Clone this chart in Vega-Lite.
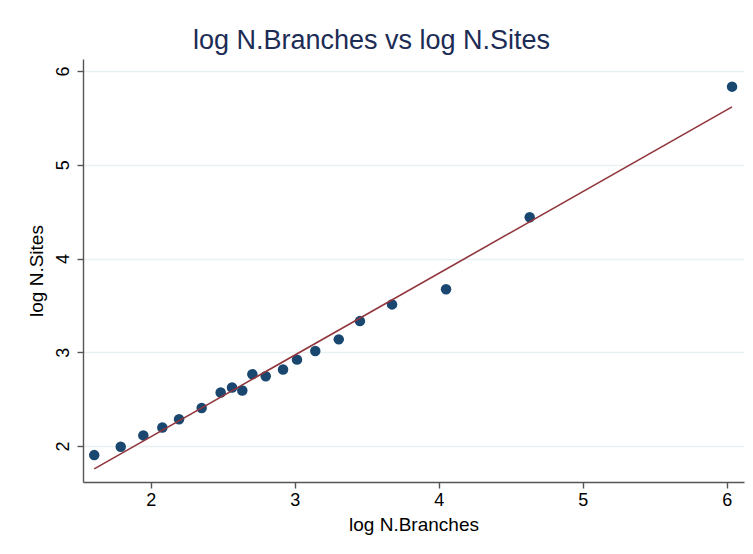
{
  "$schema": "https://vega.github.io/schema/vega-lite/v6.json",
  "width": 661,
  "height": 423,
  "autosize": {"type": "none"},
  "padding": {"left": 83, "top": 59, "right": 9, "bottom": 72},
  "background": "white",
  "config": {
    "font": "Liberation Sans",
    "view": {"stroke": null}
  },
  "title": {
    "text": "log N.Branches vs log N.Sites",
    "font": "Liberation Sans",
    "fontSize": 27,
    "fontWeight": "normal",
    "color": "#1c2c55",
    "anchor": "middle",
    "dx": -42,
    "offset": 4
  },
  "data": {
    "values": [
      {"x": 1.608, "y": 1.904},
      {"x": 1.792, "y": 1.993},
      {"x": 1.949, "y": 2.114},
      {"x": 2.081, "y": 2.199},
      {"x": 2.197, "y": 2.287},
      {"x": 2.354, "y": 2.407},
      {"x": 2.486, "y": 2.571},
      {"x": 2.565, "y": 2.624},
      {"x": 2.636, "y": 2.593},
      {"x": 2.706, "y": 2.766},
      {"x": 2.799, "y": 2.745},
      {"x": 2.919, "y": 2.816},
      {"x": 3.016, "y": 2.922},
      {"x": 3.143, "y": 3.014},
      {"x": 3.306, "y": 3.138},
      {"x": 3.453, "y": 3.333},
      {"x": 3.676, "y": 3.511},
      {"x": 4.051, "y": 3.673},
      {"x": 4.632, "y": 4.44},
      {"x": 6.037, "y": 5.833}
    ]
  },
  "encoding": {
    "x": {
      "field": "x",
      "type": "quantitative",
      "scale": {"domain": [1.53, 6.12], "nice": false, "zero": false},
      "axis": {
        "title": "log N.Branches",
        "values": [2, 3, 4, 5, 6],
        "grid": false,
        "domainColor": "#555555",
        "domainWidth": 1.4,
        "tickColor": "#555555",
        "tickWidth": 1.4,
        "tickSize": 6,
        "labelFontSize": 18,
        "labelColor": "#000000",
        "labelPadding": 3,
        "titleFontSize": 19,
        "titleFontWeight": "normal",
        "titleColor": "#000000",
        "titlePadding": 6
      }
    },
    "y": {
      "field": "y",
      "type": "quantitative",
      "scale": {"domain": [1.617, 6.128], "nice": false, "zero": false},
      "axis": {
        "title": "log N.Sites",
        "values": [2, 3, 4, 5, 6],
        "grid": true,
        "gridColor": "#e9f0f2",
        "gridWidth": 1.5,
        "domainColor": "#555555",
        "domainWidth": 1.4,
        "tickColor": "#555555",
        "tickWidth": 1.4,
        "tickSize": 6,
        "labelFontSize": 18,
        "labelColor": "#000000",
        "labelAngle": 270,
        "labelAlign": "center",
        "labelBaseline": "bottom",
        "labelPadding": 5,
        "titleFontSize": 19,
        "titleFontWeight": "normal",
        "titleColor": "#000000",
        "titlePadding": 8
      }
    }
  },
  "layer": [
    {
      "mark": {"type": "point", "filled": true, "opacity": 1, "size": 110, "color": "#1a476f"}
    },
    {
      "mark": {"type": "line", "color": "#90353b", "strokeWidth": 1.6},
      "transform": [{"regression": "y", "on": "x"}]
    }
  ]
}
